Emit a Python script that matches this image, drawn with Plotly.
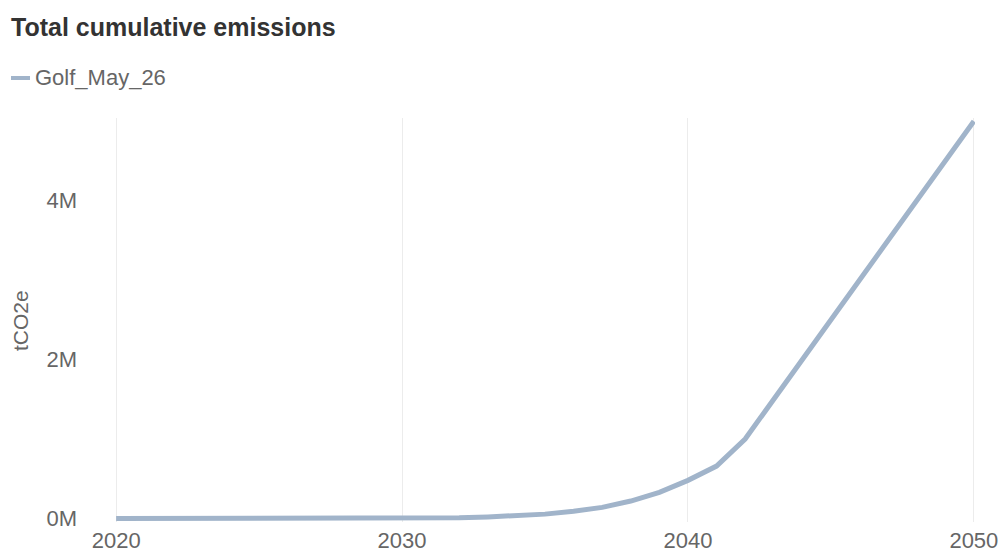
import plotly.graph_objects as go

# Cumulative emissions per year (tCO2e)
years = list(range(2020, 2051))
cumulative_tco2e = [
    0, 0, 0, 0, 0, 0, 0, 0, 0, 0,
    2_000, 5_000, 10_000, 20_000, 35_000, 55_000, 90_000, 140_000, 220_000, 330_000,
    480_000, 660_000, 1_000_000, 1_500_000, 2_000_000, 2_500_000, 3_000_000,
    3_500_000, 4_000_000, 4_500_000, 5_000_000,
]
series_name = "Golf_May_26"
y_axis_title = "tCO2e"

x_tick_vals = [2020, 2030, 2040, 2050]
y_tick_vals = [0, 2_000_000, 4_000_000]
y_tick_text = ["0M", "2M", "4M"]

LINE_COLOR = "#a1b4ca"
FONT = "Liberation Sans, Arial, sans-serif"
W, H = 1002, 552
ML, MR, MT, MB = 115, 27, 118, 30


def px_x(px):
    """Horizontal pixel position -> paper fraction."""
    return (px - ML) / (W - ML - MR)


def px_y(px):
    """Vertical pixel position (from top) -> paper fraction."""
    return (H - MB - px) / (H - MT - MB)


fig = go.Figure(
    go.Scatter(
        x=years,
        y=cumulative_tco2e,
        mode="lines",
        name=series_name,
        line=dict(color=LINE_COLOR, width=5),
        cliponaxis=False,
        showlegend=False,
    )
)

# Compact legend entry: short line swatch followed by the series name
fig.add_shape(
    type="line", xref="paper", yref="paper",
    x0=px_x(11), x1=px_x(30), y0=px_y(78), y1=px_y(78),
    line=dict(color=LINE_COLOR, width=4),
)
fig.add_annotation(
    text=series_name, showarrow=False,
    xref="paper", yref="paper",
    x=px_x(33), xanchor="left", y=px_y(78), yanchor="middle",
    font=dict(family=FONT, size=22, color="#666666"),
)

# Rotated y-axis title placed close to the left edge
fig.add_annotation(
    text=y_axis_title, showarrow=False, textangle=-90,
    xref="paper", yref="paper",
    x=px_x(20), xanchor="center", y=px_y(321), yanchor="middle",
    font=dict(family=FONT, size=21, color="#666666"),
)

fig.update_layout(
    width=W,
    height=H,
    margin=dict(l=ML, r=MR, t=MT, b=MB, autoexpand=False),
    paper_bgcolor="white",
    plot_bgcolor="white",
    font=dict(family=FONT, color="#666666", size=22),
    title=dict(
        text="<b>Total cumulative emissions</b>",
        font=dict(family=FONT, size=25, color="#333333"),
        x=11 / W, xref="container", xanchor="left",
        y=1 - 27 / H, yref="container", yanchor="middle",
    ),
    showlegend=False,
)

# Range padded slightly so the grid lines at 2020 and 2050 are drawn
fig.update_xaxes(
    range=[2019.96, 2050.04],
    tickvals=x_tick_vals,
    showgrid=True,
    gridcolor="#ececec",
    gridwidth=1,
    zeroline=False,
    showline=False,
    ticks="",
    automargin=False,
    ticklabelstandoff=3,
    tickfont=dict(size=22, color="#666666"),
)

fig.update_yaxes(
    range=[-44_000, 5_040_000],
    tickvals=y_tick_vals,
    ticktext=y_tick_text,
    showgrid=False,
    zeroline=False,
    showline=False,
    ticks="",
    automargin=False,
    ticklabelstandoff=37,
    tickfont=dict(size=22, color="#666666"),
)

fig.write_html("out.html")
